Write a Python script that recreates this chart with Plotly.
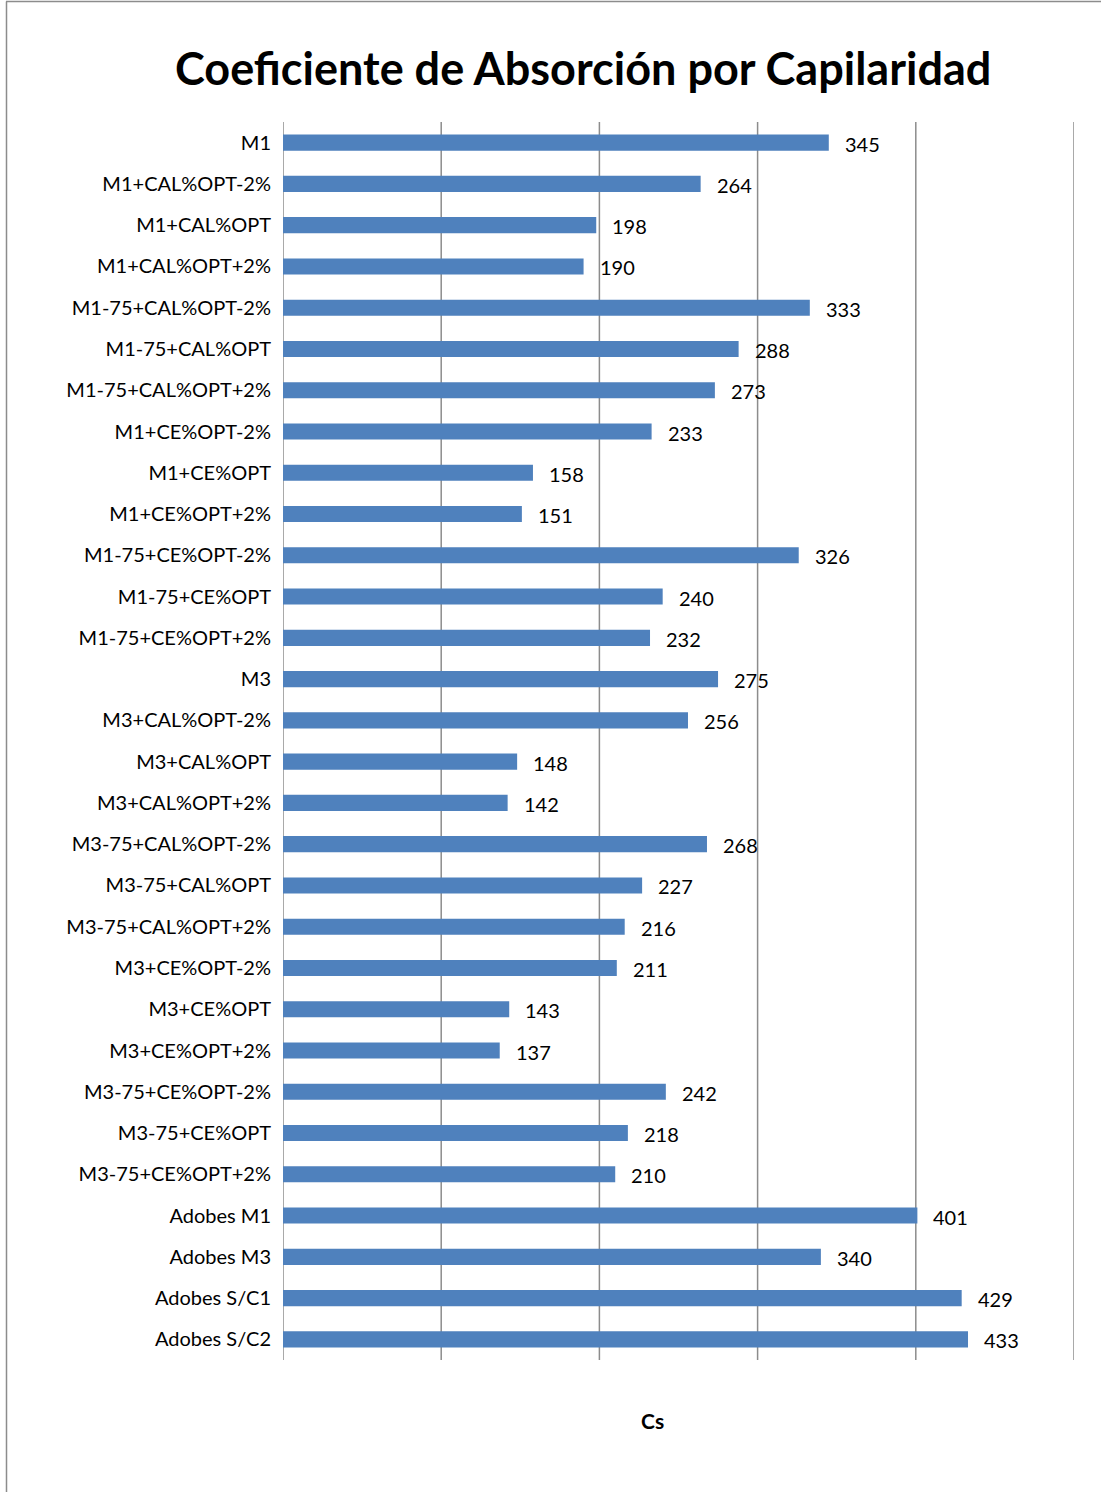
import plotly.graph_objects as go

categories = [
    "M1", "M1+CAL%OPT-2%", "M1+CAL%OPT", "M1+CAL%OPT+2%",
    "M1-75+CAL%OPT-2%", "M1-75+CAL%OPT", "M1-75+CAL%OPT+2%",
    "M1+CE%OPT-2%", "M1+CE%OPT", "M1+CE%OPT+2%",
    "M1-75+CE%OPT-2%", "M1-75+CE%OPT", "M1-75+CE%OPT+2%",
    "M3", "M3+CAL%OPT-2%", "M3+CAL%OPT", "M3+CAL%OPT+2%",
    "M3-75+CAL%OPT-2%", "M3-75+CAL%OPT", "M3-75+CAL%OPT+2%",
    "M3+CE%OPT-2%", "M3+CE%OPT", "M3+CE%OPT+2%",
    "M3-75+CE%OPT-2%", "M3-75+CE%OPT", "M3-75+CE%OPT+2%",
    "Adobes M1", "Adobes M3", "Adobes S/C1", "Adobes S/C2",
]
cs_values = [
    345, 264, 198, 190,
    333, 288, 273,
    233, 158, 151,
    326, 240, 232,
    275, 256, 148, 142,
    268, 227, 216,
    211, 143, 137,
    242, 218, 210,
    401, 340, 429, 433,
]
x_ticks = [0, 100, 200, 300, 400, 500]

W, H = 1101, 1492
L, R, T, B = 283, 27, 122, 132
FONT = "Lato, 'Open Sans', sans-serif"
GRID = "#8c8c8c"

fig = go.Figure(
    go.Bar(
        x=cs_values,
        y=categories,
        orientation="h",
        marker=dict(color="#4F81BD", line=dict(width=0)),
        width=0.39,
        hoverinfo="x+y",
    )
)

# value labels to the right of each bar
for cat, val in zip(categories, cs_values):
    fig.add_annotation(
        x=val, y=cat, xref="x", yref="y",
        text=str(val), showarrow=False,
        xanchor="left", yanchor="middle", xshift=14, yshift=-1,
        font=dict(family=FONT, size=20, color="#000000"),
    )

# vertical gridlines, including both ends of the value range
for t in x_ticks:
    fig.add_shape(type="line", xref="x", yref="paper",
                  x0=t, x1=t, y0=0, y1=1, layer="below",
                  line=dict(color=GRID, width=1.5))

pw = W - L - R
ph = H - T - B

def px_x(p):
    return (p - L) / pw

def px_y(p):
    return (H - B - p) / ph

# chart title and axis title
fig.add_annotation(
    x=px_x(583), y=px_y(68), xref="paper", yref="paper",
    text="<b>Coeficiente de Absorción por Capilaridad</b>", showarrow=False,
    xanchor="center", yanchor="middle",
    font=dict(family=FONT, size=45, color="#000000"),
)
fig.add_annotation(
    x=px_x(652), y=px_y(1420), xref="paper", yref="paper",
    text="<b>Cs</b>", showarrow=False,
    xanchor="center", yanchor="middle",
    font=dict(family=FONT, size=21, color="#000000"),
)

# outer chart frame (top and left edges)
fig.add_shape(type="line", xref="paper", yref="paper",
              x0=px_x(6), x1=px_x(W + 5), y0=px_y(1.5), y1=px_y(1.5),
              line=dict(color=GRID, width=1.5))
fig.add_shape(type="line", xref="paper", yref="paper",
              x0=px_x(6.5), x1=px_x(6.5), y0=px_y(1.5), y1=px_y(H + 5),
              line=dict(color=GRID, width=1.5))

fig.update_layout(
    width=W, height=H,
    margin=dict(l=L, r=R, t=T, b=B, pad=0),
    paper_bgcolor="white", plot_bgcolor="white",
    showlegend=False,
    xaxis=dict(
        range=[0, 500],
        tickvals=x_ticks,
        showticklabels=False,
        showgrid=False,
        zeroline=False, showline=False, ticks="",
        fixedrange=True,
    ),
    yaxis=dict(
        autorange="reversed",
        tickfont=dict(family=FONT, size=20, color="#000000"),
        ticks="", ticklabelstandoff=11,
        showgrid=False, zeroline=False,
        showline=False,
        fixedrange=True,
    ),
)

fig.write_html("out.html")
